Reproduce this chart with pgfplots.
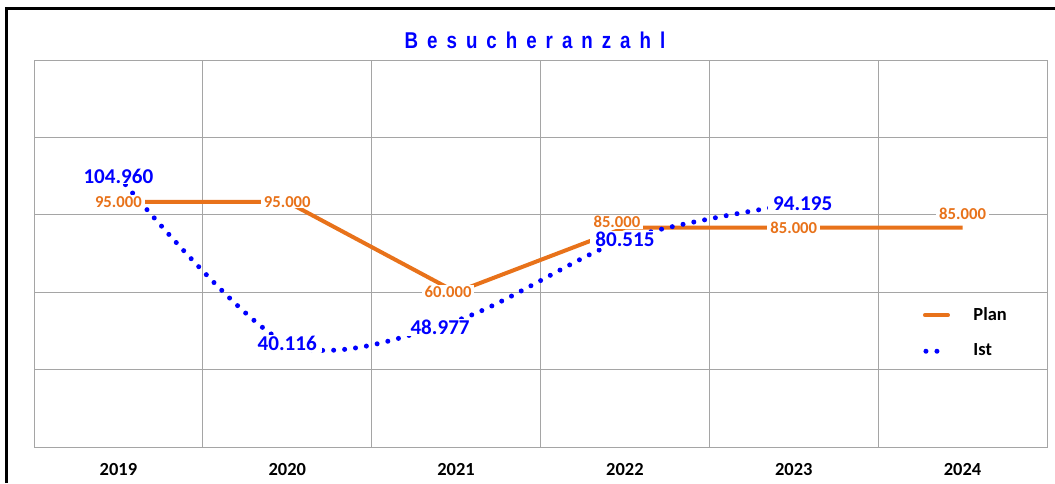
\documentclass[border=0pt]{standalone}
\usepackage{fontspec}
\setmainfont{Carlito}
\newfontfamily\titlefont{Liberation Sans}
\usepackage{graphicx}
\usepackage{pgfplots}
\usepackage{pgfplotstable}
\pgfplotsset{compat=1.18}

\definecolor{planorange}{RGB}{232,114,26}
\definecolor{istblue}{RGB}{0,0,255}
\definecolor{gridgray}{RGB}{165,165,165}

\pgfplotsset{
    planleg/.style={legend image code/.code={\draw[##1, line cap=round] (0cm,0cm) -- (0.46cm,0cm);}},
    istleg/.style={legend image code/.code={\draw[##1] (0.02cm,0cm) -- (0.3cm,0cm);}},
}

% x = category index (2019 = 0), dx/dy = label offset in cm
\pgfplotstableread{
x y dx dy
0 95000 0 0
1 95000 0 0
2 60000 -0.16 0
3 85000 -0.16 0.12
4 85000 0 0
5 85000 0 0.28
}\plan
\pgfplotstableread{
x y dx dy
0 104960 0 0
1 40116 0 0
2 48977 -0.32 -0.14
3 80515 0 0
4 94195 0.18 0
}\ist

\begin{document}
\begin{tikzpicture}
\path[use as bounding box] (-0.68,-0.72) rectangle (20.42,8.94);
\begin{axis}[
    at={(0,0)}, anchor=south west,
    scale only axis, width=20.26cm, height=7.74cm,
    xmin=-0.5, xmax=5.5, ymin=0, ymax=150000,
    xtick={0,1,2,3,4,5},
    xticklabels={2019,2020,2021,2022,2023,2024},
    minor xtick={0.5,1.5,2.5,3.5,4.5},
    xminorgrids, xmajorgrids=false,
    ytick={0,30000,60000,90000,120000,150000},
    yticklabels={}, ymajorgrids, scaled y ticks=false,
    major tick length=0, minor tick length=0,
    axis line style={gridgray, line width=0.02cm},
    grid style={gridgray, line width=0.02cm},
    minor grid style={gridgray, line width=0.02cm},
    xticklabel style={font=\bfseries\fontsize{10.5}{12}\selectfont, yshift=-0.2cm},
    /pgf/number format/.cd, fixed, precision=0, 1000 sep={.}, assume math mode=true,
    /pgfplots/.cd,
    clip=false,
    legend style={draw=none, fill=none, at={(0.872,0.38)}, anchor=north west,
        font=\bfseries\fontsize{10.5}{12}\selectfont, row sep=0.28cm,
        /tikz/every odd column/.style={column sep=0.4cm}},
    legend cell align=left,
]
\addplot[planorange, line width=0.08cm, mark=none, planleg]
    table[x=x, y=y] {\plan};
\addlegendentry{Plan}
\addplot[istblue, line width=0.1cm, line cap=round, dash pattern=on 0pt off 0.22cm,
    smooth, mark=none, istleg]
    table[x=x, y=y] {\ist};
\addlegendentry{Ist}

% data labels
\addplot[draw=none, mark=none, forget plot, point meta=\thisrow{y},
    visualization depends on={\thisrow{dx} \as \dx},
    visualization depends on={\thisrow{dy} \as \dy},
    nodes near coords,
    every node near coord/.append style={anchor=center, xshift=\dx cm, yshift=\dy cm,
        fill=white, inner xsep=0.06cm, inner ysep=0.02cm, text=planorange,
        font=\bfseries\fontsize{9.5}{11}\selectfont}]
    table[x=x, y=y] {\plan};
\addplot[draw=none, mark=none, forget plot, point meta=\thisrow{y},
    visualization depends on={\thisrow{dx} \as \dx},
    visualization depends on={\thisrow{dy} \as \dy},
    nodes near coords,
    every node near coord/.append style={anchor=center, xshift=\dx cm, yshift=\dy cm,
        fill=white, inner xsep=0.1cm, inner ysep=0.02cm, text=istblue,
        font=\bfseries\fontsize{12}{14}\selectfont}]
    table[x=x, y=y] {\ist};
\end{axis}
\def\g{\hspace{0.48em}}
\node[text=istblue, font=\titlefont\bfseries\fontsize{13}{15}\selectfont]
    at (10.02,8.14) {\scalebox{0.82}[1]{B\g e\g s\g u\g c\g h\g e\g r\g a\g n\g z\g a\g h\g l}};
\draw[black, line width=0.06cm] (-0.55,-0.72) -- (-0.55,8.76) -- (20.42,8.76);
\end{tikzpicture}
\end{document}
